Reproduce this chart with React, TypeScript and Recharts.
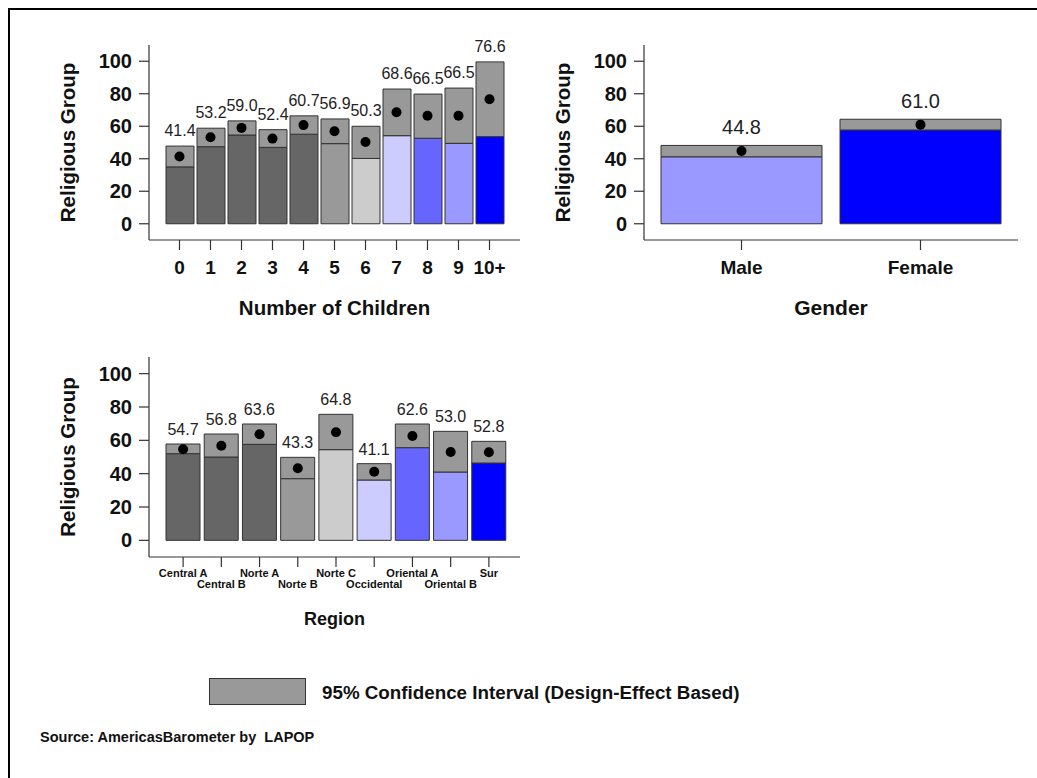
import React from 'react';
import { ComposedChart, Bar, Line, XAxis, YAxis, Cell, LabelList } from 'recharts';

// ---------- DATA ----------
const childCategories = ['0', '1', '2', '3', '4', '5', '6', '7', '8', '9', '10+'];
const childMeans = [41.4, 53.2, 59.0, 52.4, 60.7, 56.9, 50.3, 68.6, 66.5, 66.5, 76.6];
const childLower = [35.0, 47.4, 54.6, 47.0, 55.1, 49.3, 40.2, 54.2, 52.6, 49.5, 53.6];
const childUpper = [47.8, 58.8, 63.3, 57.9, 66.4, 64.5, 60.0, 82.9, 79.8, 83.5, 99.6];

const genderCategories = ['Male', 'Female'];
const genderMeans = [44.8, 61.0];
const genderLower = [41.2, 57.7];
const genderUpper = [48.2, 64.3];

const regionCategories = ['Central A', 'Central B', 'Norte A', 'Norte B', 'Norte C', 'Occidental', 'Oriental A', 'Oriental B', 'Sur'];
const regionMeans = [54.7, 56.8, 63.6, 43.3, 64.8, 41.1, 62.6, 53.0, 52.8];
const regionLower = [52.0, 50.0, 57.6, 37.0, 54.4, 36.2, 55.6, 41.0, 46.4];
const regionUpper = [57.8, 63.8, 69.8, 49.8, 75.6, 46.0, 69.8, 65.4, 59.4];

const yTicks = [0, 20, 40, 60, 80, 100];

// ---------- STYLES ----------
const childColors = ['#666666', '#666666', '#666666', '#666666', '#666666', '#999999', '#cccccc', '#ccccff', '#6666ff', '#9999ff', '#0000ff'];
const genderColors = ['#9999ff', '#0000ff'];
const regionColors = ['#666666', '#666666', '#666666', '#999999', '#cccccc', '#ccccff', '#6666ff', '#9999ff', '#0000ff'];
const CI_FILL = '#999999';
const EDGE = '#333333';
const FONT = '"Liberation Sans", Arial, Helvetica, sans-serif';

function build(cats: string[], means: number[], lo: number[], hi: number[]) {
  return cats.map((c, i) => ({ cat: c, lower: lo[i], ci: +(hi[i] - lo[i]).toFixed(2), mean: means[i] }));
}

const RegionTick = (props: any) => {
  const { x, y, payload, index } = props;
  const dy = index % 2 === 1 ? 11 : 0;
  return (
    <text x={x} y={y + dy} dy="0.71em" textAnchor="middle" fontFamily={FONT} fontSize={11} fontWeight={700} fill="#111">
      {payload.value}
    </text>
  );
};

const Dot = (p: any) => <circle key={`d-${p.index}`} cx={p.cx} cy={p.cy} r={5} fill="#000" />;

type PanelProps = {
  data: any[];
  colors: string[];
  left: number;
  top: number;
  plotW: number;
  plotH: number;
  barSize: number;
  padL: number;
  padR: number;
  xTitle: string;
  xTitleFont: number;
  tickFont: number;
  valueFont: number;
  valueOffset: number;
  region?: boolean;
};

function Panel(p: PanelProps) {
  const yw = 109;
  const width = yw + p.plotW + 10;
  const height = 10 + p.plotH + 85;
  return (
    <div style={{ position: 'absolute', left: p.left - 20, top: p.top }}>
      <ComposedChart width={width} height={height} data={p.data} margin={{ top: 10, right: 10, bottom: 0, left: 0 }}>
        <XAxis
          dataKey="cat"
          type="category"
          interval={0}
          height={85}
          padding={{ left: p.padL, right: p.padR }}
          tickSize={10}
          tickMargin={p.region ? 2 : 11}
          axisLine={{ stroke: EDGE, strokeWidth: 1.2 }}
          tickLine={{ stroke: EDGE, strokeWidth: 1.2 }}
          tick={p.region ? <RegionTick /> : { fill: '#111', fontSize: p.tickFont, fontWeight: 700, fontFamily: FONT }}
          label={{
            value: p.xTitle,
            position: 'insideBottom',
            offset: p.region ? 17 : 10,
            style: { fill: '#111', fontSize: p.xTitleFont, fontWeight: 700, fontFamily: FONT },
          }}
        />
        <YAxis
          type="number"
          domain={[-10, 110]}
          ticks={yTicks}
          interval={0}
          allowDataOverflow
          width={yw}
          tickSize={10}
          tickMargin={7}
          axisLine={{ stroke: EDGE, strokeWidth: 1.2 }}
          tickLine={{ stroke: EDGE, strokeWidth: 1.2 }}
          tick={{ fill: '#111', fontSize: 20, fontWeight: 700, fontFamily: FONT }}
          label={{
            value: 'Religious Group',
            angle: -90,
            position: 'insideLeft',
            offset: 28,
            style: { textAnchor: 'middle', fill: '#111', fontSize: 20.5, fontWeight: 700, fontFamily: FONT },
          }}
        />
        <Bar dataKey="lower" stackId="s" barSize={p.barSize} stroke={EDGE} strokeWidth={1} isAnimationActive={false}>
          {p.data.map((_, i) => (
            <Cell key={`c-${i}`} fill={p.colors[i]} />
          ))}
        </Bar>
        <Bar dataKey="ci" stackId="s" barSize={p.barSize} fill={CI_FILL} stroke={EDGE} strokeWidth={1} isAnimationActive={false}>
          <LabelList
            dataKey="mean"
            position="top"
            offset={p.valueOffset}
            formatter={(v: any) => Number(v).toFixed(1)}
            style={{ fill: '#222', fontSize: p.valueFont, fontWeight: 400, fontFamily: FONT }}
          />
        </Bar>
        <Line dataKey="mean" stroke="none" dot={Dot} activeDot={false} isAnimationActive={false} legendType="none" />
      </ComposedChart>
    </div>
  );
}

export default function App() {
  const childData = build(childCategories, childMeans, childLower, childUpper);
  const genderData = build(genderCategories, genderMeans, genderLower, genderUpper);
  const regionData = build(regionCategories, regionMeans, regionLower, regionUpper);
  return (
    <div style={{ position: 'relative', width: 1037, height: 778, background: '#fff', overflow: 'hidden', fontFamily: FONT }}>
      <style>{'body{margin:0;overflow:hidden;}'}</style>
      <div style={{ position: 'absolute', left: 8, top: 8, width: 1029, height: 2, background: '#000' }} />
      <div style={{ position: 'absolute', left: 8, top: 8, width: 2, height: 770, background: '#000' }} />

      <Panel
        data={childData}
        colors={childColors}
        left={60}
        top={35}
        plotW={371}
        plotH={195}
        barSize={28}
        padL={15}
        padR={15}
        xTitle="Number of Children"
        xTitleFont={20.5}
        tickFont={19}
        valueFont={16}
        valueOffset={10}
      />
      <Panel
        data={genderData}
        colors={genderColors}
        left={555}
        top={35}
        plotW={374}
        plotH={195}
        barSize={161}
        padL={8}
        padR={8}
        xTitle="Gender"
        xTitleFont={21}
        tickFont={19}
        valueFont={20}
        valueOffset={11}
      />
      <Panel
        data={regionData}
        colors={regionColors}
        left={60}
        top={347}
        plotW={371}
        plotH={200}
        barSize={34}
        padL={15}
        padR={12}
        xTitle="Region"
        xTitleFont={18}
        tickFont={11}
        valueFont={16}
        valueOffset={9}
        region
      />

      <div
        style={{
          position: 'absolute',
          left: 209,
          top: 678,
          width: 97,
          height: 27,
          boxSizing: 'border-box',
          background: CI_FILL,
          border: `1px solid ${EDGE}`,
        }}
      />
      <div style={{ position: 'absolute', left: 322, top: 680, fontSize: 18.8, fontWeight: 700, color: '#111', lineHeight: '26px', whiteSpace: 'nowrap' }}>
        95% Confidence Interval (Design-Effect Based)
      </div>
      <div style={{ position: 'absolute', left: 40, top: 725, fontSize: 14.5, fontWeight: 700, color: '#111', lineHeight: '24px', whiteSpace: 'nowrap' }}>
        Source: AmericasBarometer by&nbsp; LAPOP
      </div>
    </div>
  );
}
